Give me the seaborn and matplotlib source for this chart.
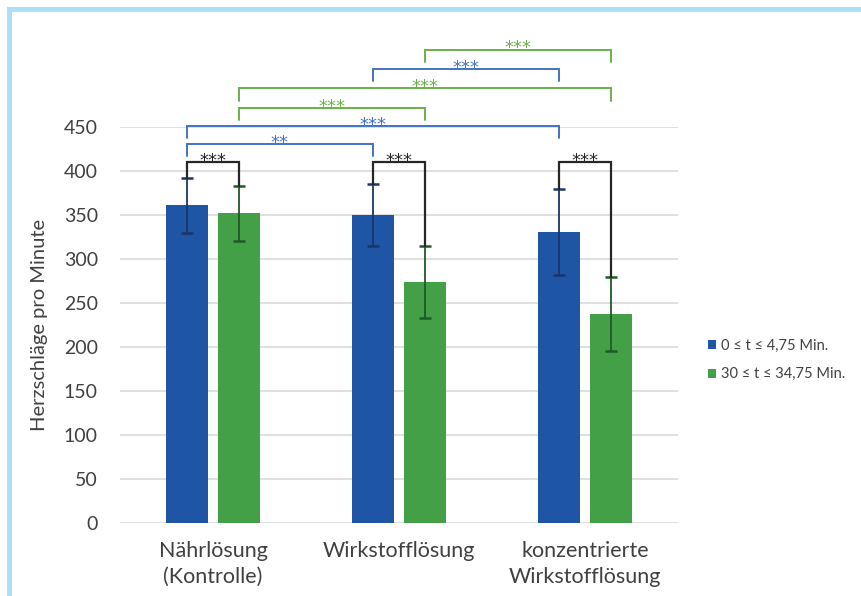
import matplotlib
matplotlib.use("Agg")
import matplotlib.pyplot as plt
from matplotlib.patches import Rectangle, Patch
import seaborn as sns
import pandas as pd

# ---- data ----
categories = ["Nährlösung\n(Kontrolle)", "Wirkstofflösung", "konzentrierte\nWirkstofflösung"]
periods = ["0 ≤ t ≤ 4,75 Min.", "30 ≤ t ≤ 34,75 Min."]
means_early = [361, 350, 331]
sd_early = [31, 35, 49]
means_late = [352, 274, 238]
sd_late = [31, 41, 42]
y_ticks = [0, 50, 100, 150, 200, 250, 300, 350, 400, 450]

# significance brackets: (cat_a, period_a, cat_b, period_b, label)
comparisons = [
    (0, 0, 0, 1, "***"),
    (1, 0, 1, 1, "***"),
    (2, 0, 2, 1, "***"),
    (0, 0, 1, 0, "**"),
    (0, 0, 2, 0, "***"),
    (0, 1, 1, 1, "***"),
    (0, 1, 2, 1, "***"),
    (1, 0, 2, 0, "***"),
    (1, 1, 2, 1, "***"),
]

# ---- style ----
blue = "#1f55a5"
green = "#44a046"
err_blue = "#1a3568"
err_green = "#1d5a28"
br_blue = "#4472c4"
br_green = "#6ab04c"
br_black = "#262626"
font = ["Lato", "DejaVu Sans"]

sns.set_theme(style="white")
plt.rcParams["font.family"] = font
plt.rcParams["text.color"] = "#404040"

df = pd.DataFrame({
    "Kategorie": categories * 2,
    "Zeitraum": [periods[0]] * 3 + [periods[1]] * 3,
    "Wert": means_early + means_late,
})

fig = plt.figure(figsize=(8.62, 5.96), dpi=100)
ax = fig.add_axes([120 / 862, 1 - 523 / 596, 558 / 862, 396 / 596])

sns.barplot(data=df, x="Kategorie", y="Wert", hue="Zeitraum", order=categories,
            hue_order=periods, palette=[blue, green], saturation=1, width=0.56, gap=0.19,
            errorbar=None, linewidth=0, ax=ax, legend=False)

ax.set_ylim(0, 450)
ax.set_xlim(-0.5, 2.5)
ax.set_yticks(y_ticks)
ax.yaxis.grid(True, color="#d9d9d9", linewidth=1.2)
ax.set_axisbelow(True)
for s in ax.spines.values():
    s.set_visible(False)
ax.tick_params(axis="both", length=0, labelcolor="#404040")
ax.tick_params(axis="y", pad=16, labelsize=14)
ax.tick_params(axis="x", pad=13, labelsize=15.5)
for t in ax.get_xticklabels():
    t.set_linespacing(1.35)
ax.set_xlabel("")
ax.set_ylabel("Herzschläge pro Minute", fontsize=14.5, color="#404040", labelpad=11)

# error bars
means = [means_early, means_late]
sds = [sd_early, sd_late]
ecols = [err_blue, err_green]
centers = [[], []]
for h, cont in enumerate(ax.containers[:2]):
    for i, p in enumerate(cont.patches):
        cx = p.get_x() + p.get_width() / 2
        centers[h].append(cx)
        ax.errorbar(cx, means[h][i], yerr=sds[h][i], color=ecols[h],
                    elinewidth=1.3, capsize=4, capthick=1.8, zorder=5)

# brackets
heights = [410, 410, 410, 431, 451, 472, 494, 516, 538]
for k, (ca, pa, cb, pb, lab) in enumerate(comparisons):
    xa, xb = centers[pa][ca], centers[pb][cb]
    y = heights[k]
    if pa == pb:
        col = br_blue if pa == 0 else br_green
        ya = yb = y - 14
        lw = 1.4
    else:
        col = br_black
        ya = means[pa][ca] + sds[pa][ca]
        yb = means[pb][cb] + sds[pb][cb]
        lw = 1.6
    ax.plot([xa, xa, xb, xb], [ya, y, y, yb], color=col, lw=lw,
            clip_on=False, zorder=6, solid_joinstyle="miter")
    ax.text((xa + xb) / 2, y - 9, lab, ha="center", va="bottom",
            fontsize=13, color=col, clip_on=False, family=["DejaVu Sans"])

# legend
handles = [Patch(facecolor=blue, edgecolor="none"), Patch(facecolor=green, edgecolor="none")]
fig.legend(handles, periods, loc="center left", bbox_to_anchor=(708 / 862, 1 - 360 / 596),
           frameon=False, fontsize=10.5, handlelength=0.55, handleheight=0.55,
           handletextpad=0.35, labelspacing=1.0, labelcolor="#404040",
           borderpad=0, borderaxespad=0)

# border
bc = "#ade0f7"
fig.add_artist(Rectangle((7 / 862, 0), 5 / 862, 1 - 7 / 596, transform=fig.transFigure,
                         facecolor=bc, edgecolor="none"))
fig.add_artist(Rectangle((7 / 862, 1 - 12 / 596), 1 - 7 / 862, 5 / 596, transform=fig.transFigure,
                         facecolor=bc, edgecolor="none"))

fig.savefig("out.png", dpi=100)
